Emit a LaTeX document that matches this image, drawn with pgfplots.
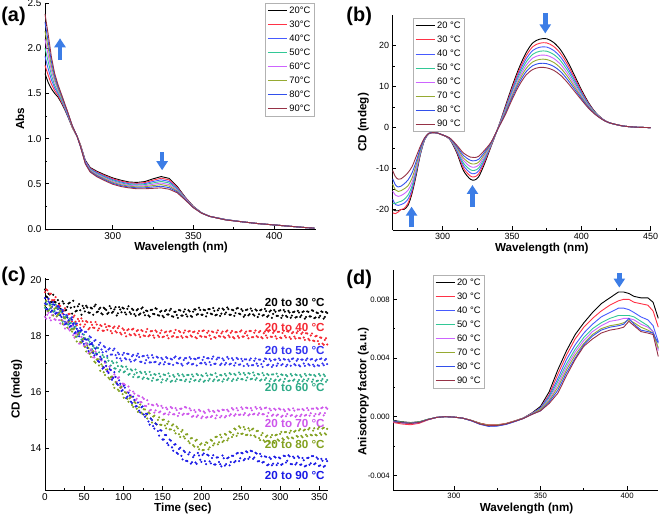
\documentclass[border=0pt]{standalone}
\usepackage{fontspec}
\setmainfont{Liberation Sans}
\usepackage{pgfplots}
\pgfplotsset{compat=1.18}
\usepackage{pgfplotstable}
\usetikzlibrary{arrows.meta}

\definecolor{cA}{RGB}{0,0,0}
\definecolor{cB}{RGB}{255,50,70}
\definecolor{cC}{RGB}{70,90,255}
\definecolor{cD}{RGB}{50,200,150}
\definecolor{cE}{RGB}{205,100,255}
\definecolor{cF}{RGB}{150,170,50}
\definecolor{cG}{RGB}{50,80,235}
\definecolor{cH}{RGB}{150,50,70}
\definecolor{arr}{RGB}{60,125,230}
\definecolor{pRed}{RGB}{245,40,50}
\definecolor{pBlue}{RGB}{50,50,240}
\definecolor{pTeal}{RGB}{45,170,135}
\definecolor{pViolet}{RGB}{205,85,235}
\definecolor{pOlive}{RGB}{130,160,30}
\definecolor{pBlue2}{RGB}{25,25,230}

\pgfplotstableread{
w a20 a30 a40 a50 a60 a70 a80 a90
258 1.72 1.81 1.91 2.00 2.10 2.19 2.29 2.38
260 1.62 1.70 1.77 1.85 1.92 2.00 2.07 2.15
262 1.55 1.60 1.65 1.70 1.75 1.80 1.85 1.90
264 1.50 1.53 1.56 1.59 1.63 1.66 1.69 1.72
266 1.46 1.48 1.50 1.52 1.54 1.56 1.58 1.60
268 1.40 1.41 1.43 1.44 1.46 1.47 1.49 1.50
270 1.33 1.34 1.35 1.36 1.37 1.38 1.39 1.40
272 1.25 1.26 1.26 1.27 1.28 1.29 1.29 1.30
275 1.12 1.12 1.13 1.13 1.13 1.13 1.14 1.14
278 1.02 1.02 1.02 1.02 1.02 1.02 1.02 1.02
280 0.93 0.93 0.92 0.92 0.92 0.92 0.91 0.91
283 0.76 0.75 0.75 0.74 0.74 0.73 0.73 0.72
286 0.680 0.673 0.666 0.659 0.651 0.644 0.637 0.630
290 0.640 0.631 0.623 0.614 0.606 0.597 0.589 0.580
295 0.600 0.591 0.581 0.572 0.563 0.554 0.544 0.535
300 0.565 0.555 0.545 0.535 0.525 0.515 0.505 0.495
305 0.540 0.530 0.520 0.510 0.500 0.490 0.480 0.470
310 0.520 0.511 0.501 0.492 0.483 0.474 0.464 0.455
315 0.515 0.505 0.495 0.485 0.475 0.465 0.455 0.445
320 0.525 0.514 0.502 0.491 0.479 0.468 0.456 0.445
325 0.555 0.540 0.525 0.510 0.495 0.480 0.465 0.450
330 0.580 0.562 0.544 0.526 0.509 0.491 0.473 0.455
335 0.560 0.543 0.526 0.509 0.491 0.474 0.457 0.440
340 0.470 0.460 0.450 0.440 0.430 0.420 0.410 0.400
345 0.350 0.346 0.341 0.337 0.333 0.329 0.324 0.320
350 0.250 0.248 0.246 0.244 0.241 0.239 0.237 0.235
355 0.180 0.179 0.179 0.178 0.177 0.177 0.176 0.175
360 0.140 0.140 0.140 0.140 0.140 0.140 0.140 0.140
370 0.105 0.104 0.104 0.103 0.102 0.101 0.101 0.100
380 0.080 0.080 0.080 0.080 0.080 0.080 0.080 0.080
390 0.060 0.060 0.060 0.060 0.060 0.060 0.060 0.060
400 0.045 0.045 0.045 0.045 0.045 0.045 0.045 0.045
410 0.030 0.030 0.030 0.030 0.030 0.030 0.030 0.030
420 0.015 0.015 0.015 0.015 0.015 0.015 0.015 0.015
425 0.010 0.010 0.010 0.010 0.010 0.010 0.010 0.010
}\tabA

\pgfplotstableread{
w b20 b30 b40 b50 b60 b70 b80 b90
264 -20.0 -20.8 -17.5 -18.5 -15.5 -13.8 -12.5 -10.5
266 -20.3 -21.0 -18.8 -18.5 -16.5 -15.2 -14.0 -12.0
268 -20.3 -20.6 -19.0 -18.2 -16.8 -15.6 -14.5 -12.6
270 -20.0 -20.0 -18.8 -18.0 -16.6 -15.4 -14.3 -12.5
272 -20.0 -19.8 -18.5 -17.6 -16.2 -15.0 -13.8 -12.0
275 -19.0 -18.5 -17.5 -16.5 -15.3 -14.2 -12.8 -11.0
278 -16.0 -15.5 -15.0 -14.2 -13.3 -12.3 -11.0 -9.5
281 -11.5 -11.0 -10.7 -10.3 -9.8 -9.0 -8.2 -7.0
284 -6.5 -6.3 -6.2 -6.0 -5.7 -5.4 -5.0 -4.5
287 -3.0 -2.9 -2.9 -2.8 -2.7 -2.6 -2.6 -2.5
290 -1.5 -1.5 -1.5 -1.5 -1.4 -1.4 -1.4 -1.4
293 -1.2 -1.2 -1.2 -1.2 -1.2 -1.2 -1.2 -1.2
296 -1.3 -1.3 -1.3 -1.3 -1.3 -1.3 -1.3 -1.3
300 -1.8 -1.8 -1.8 -1.8 -1.8 -1.8 -1.8 -1.8
305 -2.80 -2.76 -2.71 -2.67 -2.63 -2.59 -2.54 -2.50
310 -6.00 -5.74 -5.49 -5.23 -4.97 -4.71 -4.46 -4.20
315 -10.50 -9.89 -9.27 -8.66 -8.04 -7.43 -6.81 -6.20
320 -12.60 -11.83 -11.06 -10.29 -9.51 -8.74 -7.97 -7.20
323 -12.80 -12.01 -11.23 -10.44 -9.66 -8.87 -8.09 -7.30
326 -12.00 -11.29 -10.57 -9.86 -9.14 -8.43 -7.71 -7.00
330 -9.00 -8.51 -8.03 -7.54 -7.06 -6.57 -6.09 -5.60
335 -4.50 -4.36 -4.21 -4.07 -3.93 -3.79 -3.64 -3.50
340 0.00 -0.03 -0.06 -0.09 -0.11 -0.14 -0.17 -0.20
345 5.00 4.71 4.43 4.14 3.86 3.57 3.29 3.00
350 10.00 9.54 9.09 8.63 8.17 7.71 7.26 6.80
355 14.50 13.89 13.27 12.66 12.04 11.43 10.81 10.20
360 18.20 17.43 16.66 15.89 15.11 14.34 13.57 12.80
365 20.70 19.77 18.84 17.91 16.99 16.06 15.13 14.20
370 21.60 20.61 19.63 18.64 17.66 16.67 15.69 14.70
375 21.70 20.69 19.67 18.66 17.64 16.63 15.61 14.60
380 20.80 19.83 18.86 17.89 16.91 15.94 14.97 14.00
385 19.00 18.11 17.23 16.34 15.46 14.57 13.69 12.80
390 16.20 15.46 14.71 13.97 13.23 12.49 11.74 11.00
395 12.80 12.24 11.69 11.13 10.57 10.01 9.46 8.90
400 9.30 8.94 8.59 8.23 7.87 7.51 7.16 6.80
405 6.20 6.00 5.80 5.60 5.40 5.20 5.00 4.80
410 3.80 3.71 3.63 3.54 3.46 3.37 3.29 3.20
415 2.20 2.17 2.14 2.11 2.09 2.06 2.03 2.00
420 1.20 1.20 1.20 1.20 1.20 1.20 1.20 1.20
430 0.40 0.40 0.40 0.40 0.40 0.40 0.40 0.40
440 0.10 0.10 0.10 0.10 0.10 0.10 0.10 0.10
450 0.00 0.00 0.00 0.00 0.00 0.00 0.00 0.00
}\tabB

\pgfplotstableread{
w d20 d30 d40 d50 d60 d70 d80 d90
265 -0.00025 -0.00040 -0.00030 -0.00030 -0.00035 -0.00030 -0.00030 -0.00035
270 -0.00035 -0.00050 -0.00040 -0.00038 -0.00042 -0.00038 -0.00040 -0.00042
275 -0.00040 -0.00055 -0.00045 -0.00042 -0.00048 -0.00042 -0.00044 -0.00046
280 -0.00035 -0.00045 -0.00038 -0.00036 -0.00040 -0.00036 -0.00038 -0.00040
285 -0.00018 -0.00022 -0.00020 -0.00018 -0.00020 -0.00018 -0.00019 -0.00020
290 -0.00005 -0.00005 -0.00005 -0.00005 -0.00005 -0.00005 -0.00005 -0.00005
295 0.00000 0.00000 0.00000 0.00000 0.00000 0.00000 0.00000 0.00000
300 -0.00003 -0.00003 -0.00003 -0.00003 -0.00003 -0.00003 -0.00003 -0.00003
305 -0.00010 -0.00010 -0.00010 -0.00010 -0.00010 -0.00010 -0.00010 -0.00010
310 -0.00025 -0.00025 -0.00027 -0.00026 -0.00026 -0.00026 -0.00028 -0.00026
315 -0.00045 -0.00045 -0.00050 -0.00048 -0.00050 -0.00048 -0.00052 -0.00050
320 -0.00058 -0.00056 -0.00064 -0.00060 -0.00062 -0.00060 -0.00066 -0.00062
325 -0.00058 -0.00055 -0.00062 -0.00058 -0.00060 -0.00058 -0.00064 -0.00060
330 -0.00048 -0.00046 -0.00052 -0.00049 -0.00050 -0.00049 -0.00053 -0.00050
335 -0.00030 -0.00029 -0.00033 -0.00031 -0.00032 -0.00031 -0.00034 -0.00032
340 -0.00010 -0.00010 -0.00011 -0.00011 -0.00012 -0.00012 -0.00013 -0.00013
345 0.00025 0.00023 0.00022 0.00020 0.00019 0.00018 0.00016 0.00015
350 0.0007 0.0006 0.0006 0.0005 0.0005 0.0005 0.0004 0.0004
355 0.0017 0.0015 0.0014 0.0013 0.0012 0.0011 0.0010 0.0009
360 0.0032 0.0029 0.0026 0.0024 0.0022 0.0020 0.0018 0.0016
365 0.0045 0.0042 0.0039 0.0036 0.0034 0.0032 0.0030 0.0028
370 0.0056 0.0053 0.0049 0.0046 0.0044 0.0042 0.0040 0.0039
375 0.0064 0.0061 0.0057 0.0054 0.0052 0.0050 0.0049 0.0048
380 0.0071 0.0067 0.0063 0.0060 0.0058 0.0056 0.0055 0.0053
385 0.0077 0.0072 0.0068 0.0064 0.0062 0.0060 0.0059 0.0057
390 0.0081 0.0076 0.0071 0.0067 0.0065 0.0062 0.0061 0.0059
395 0.0085 0.0079 0.0074 0.0069 0.0066 0.0063 0.0062 0.0060
398 0.0085 0.0080 0.0074 0.0069 0.0067 0.0064 0.0063 0.0061
401 0.0084 0.0080 0.0073 0.0069 0.0067 0.0066 0.0067 0.0065
404 0.0082 0.0078 0.0071 0.0068 0.0066 0.0064 0.0063 0.0062
408 0.0081 0.0077 0.0068 0.0065 0.0063 0.0061 0.0059 0.0058
412 0.0081 0.0076 0.0066 0.0062 0.0061 0.0059 0.0058 0.0057
415 0.0078 0.0072 0.0062 0.0058 0.0058 0.0057 0.0057 0.0056
418 0.0067 0.0061 0.0051 0.0046 0.0045 0.0047 0.0050 0.0041
}\tabD

\pgfplotstableread{
t s30 s40 s50 s60 s70 s80 s90
0 19.65 19.55 19.15 19.00 18.68 19.08 19.35
3 19.37 19.62 18.95 19.13 18.75 18.89 18.94
6 19.47 19.50 19.14 18.96 18.64 19.08 19.18
9 19.20 19.27 19.03 19.11 18.73 18.88 18.90
12 19.20 19.28 18.87 18.91 18.59 18.96 19.10
15 19.04 19.03 19.00 18.98 18.69 18.70 18.82
18 19.15 19.10 18.83 18.74 18.56 18.80 19.02
21 18.93 18.89 18.94 18.84 18.57 18.55 18.67
24 19.15 18.90 18.66 18.64 18.39 18.66 18.76
27 18.92 18.68 18.74 18.68 18.48 18.44 18.44
30 19.15 18.78 18.52 18.40 18.25 18.50 18.55
33 19.00 18.61 18.62 18.46 18.33 18.22 18.35
36 19.25 18.66 18.39 18.26 18.02 18.23 18.44
39 18.87 18.50 18.42 18.33 18.08 17.97 18.13
42 19.05 18.60 18.19 18.09 18.04 18.04 18.15
45 18.91 18.40 18.28 18.13 17.73 17.78 18.18
48 19.07 18.52 18.06 17.89 17.84 17.85 17.80
51 18.87 18.40 18.14 17.91 17.63 17.60 17.88
54 19.01 18.49 17.87 17.72 17.68 17.64 17.57
57 18.82 18.28 17.98 17.79 17.41 17.36 17.69
60 18.97 18.39 17.75 17.52 17.46 17.40 17.70
63 19.05 18.28 17.82 17.57 17.23 17.08 17.30
66 18.84 18.40 17.58 17.37 17.32 17.15 17.34
69 18.95 18.26 17.68 17.41 17.07 16.94 17.07
72 18.80 18.35 17.51 17.19 17.12 16.98 17.16
75 19.00 18.18 17.63 17.24 16.85 16.70 16.88
78 18.92 18.31 17.44 17.05 16.91 16.79 16.93
81 18.82 18.35 17.51 17.11 16.71 16.50 16.67
84 18.98 18.17 17.33 16.94 16.78 16.52 16.78
87 18.86 18.28 17.48 17.03 16.51 16.26 16.50
90 19.02 18.16 17.31 16.83 16.54 16.35 16.53
93 18.80 18.27 17.40 16.92 16.49 16.08 16.25
96 18.94 18.11 17.19 16.78 16.22 16.15 16.29
99 19.00 18.26 17.32 16.89 16.29 15.92 16.06
102 18.83 18.10 17.20 16.73 16.25 15.99 16.15
105 18.96 18.20 17.36 16.81 15.99 15.75 15.83
108 18.84 18.05 17.15 16.64 16.05 15.77 15.87
111 18.96 18.22 17.27 16.76 15.82 15.53 15.60
114 18.77 18.07 17.11 16.62 15.94 15.63 15.71
117 18.91 18.17 17.29 16.68 15.75 15.40 15.49
120 18.75 18.04 17.24 16.54 15.85 15.45 15.33
123 18.97 18.20 17.07 16.67 15.63 15.26 15.45
126 18.83 18.01 17.28 16.51 15.75 15.38 15.19
129 18.90 18.14 17.13 16.63 15.49 15.16 15.22
132 18.72 17.98 17.22 16.46 15.57 15.26 14.94
135 18.92 18.16 17.05 16.60 15.36 15.05 15.05
138 18.78 18.01 17.22 16.49 15.52 15.12 14.78
141 18.98 18.19 17.07 16.61 15.34 14.88 14.87
144 18.74 18.01 17.22 16.44 15.50 15.00 14.60
147 18.86 18.10 17.03 16.55 15.30 14.83 14.63
150 18.71 17.95 17.16 16.44 15.43 15.00 14.30
153 18.88 18.12 17.06 16.60 15.23 14.80 14.46
156 18.76 18.01 17.20 16.46 15.38 14.86 14.17
159 18.90 18.15 17.00 16.56 15.27 14.66 14.30
162 18.70 17.97 17.15 16.40 15.42 14.80 14.02
165 18.85 18.10 17.22 16.54 15.20 14.62 14.12
168 18.74 17.95 17.04 16.45 15.35 14.76 13.83
171 18.92 18.17 17.18 16.58 15.24 14.49 13.96
174 18.72 17.99 17.00 16.42 15.40 14.58 13.72
177 18.86 18.11 17.14 16.56 15.22 14.41 13.90
180 18.76 17.97 17.20 16.44 15.44 14.48 13.54
183 18.91 18.15 17.04 16.60 15.22 14.24 13.77
186 18.71 18.01 17.18 16.46 15.34 14.34 13.44
189 18.86 18.13 17.00 16.55 15.14 14.10 13.67
192 18.94 17.95 17.16 16.42 15.28 14.26 13.48
195 18.77 18.09 17.20 16.60 15.16 14.04 13.82
198 18.92 17.99 17.02 16.44 15.32 14.12 13.58
201 18.75 18.17 17.14 16.56 15.12 13.92 13.75
204 18.91 17.97 17.04 16.40 15.25 14.11 13.53
207 18.81 18.11 17.20 16.58 15.10 14.18 13.76
210 18.95 18.01 17.06 16.46 15.30 14.02 13.52
213 18.77 18.15 17.18 16.60 15.14 14.26 13.64
216 18.89 17.95 17.00 16.44 15.28 14.16 13.41
219 18.75 18.11 17.16 16.54 15.16 14.40 13.66
222 18.97 17.99 17.22 16.42 15.31 14.20 13.50
225 18.79 18.09 17.01 16.59 15.14 14.38 13.34
228 18.93 17.97 17.13 16.45 15.35 14.26 13.63
231 18.83 18.15 17.03 16.58 15.14 14.47 13.42
234 18.95 18.01 17.18 16.48 15.31 14.34 13.66
237 18.75 18.11 17.00 16.63 15.20 14.55 13.50
240 18.91 17.95 17.14 16.45 15.37 14.47 13.72
243 18.81 18.13 17.03 16.60 15.20 14.66 13.53
246 18.99 17.99 17.17 16.48 15.34 14.52 13.82
249 18.77 18.15 16.98 16.63 15.19 14.72 13.63
252 18.89 17.97 17.10 16.45 15.39 14.51 13.81
255 18.74 18.09 17.16 16.61 15.24 14.66 13.61
258 18.94 18.01 16.99 16.51 15.42 14.47 13.85
261 18.77 18.17 17.13 16.65 15.20 14.62 13.67
264 18.89 17.95 16.95 16.47 15.34 14.66 13.88
267 18.72 18.11 17.11 16.59 15.22 14.44 13.66
270 18.90 17.99 17.01 16.49 15.40 14.60 13.80
273 18.77 18.13 17.15 16.62 15.24 14.35 13.53
276 18.93 17.95 16.99 16.44 15.38 14.46 13.70
279 18.74 18.09 17.09 16.59 15.20 14.27 13.50
282 18.88 18.01 17.17 16.49 15.44 14.40 13.68
285 18.72 18.15 16.97 16.60 15.25 14.24 13.41
288 18.90 17.97 17.11 16.46 15.34 14.38 13.61
291 18.78 18.10 16.95 16.62 15.19 14.21 13.44
294 18.86 17.98 17.15 16.43 15.36 14.45 13.66
297 18.71 18.14 17.01 16.55 15.19 14.30 13.45
300 18.91 17.94 17.13 16.44 15.37 14.50 13.63
303 18.72 18.10 16.99 16.60 15.15 14.34 13.43
306 18.86 18.00 17.15 16.46 15.31 14.56 13.71
309 18.67 18.16 16.97 16.56 15.21 14.39 13.54
312 18.83 17.95 17.09 16.40 15.35 14.54 13.70
315 18.72 18.09 17.17 16.58 15.17 14.37 13.42
318 18.86 17.97 16.99 16.44 15.33 14.58 13.64
321 18.67 18.10 17.11 16.60 15.15 14.43 13.47
324 18.83 17.92 16.95 16.42 15.37 14.62 13.65
327 18.73 18.07 17.15 16.54 15.19 14.43 13.41
330 18.87 17.94 17.01 16.44 15.35 14.62 13.56
333 18.67 18.09 17.13 16.58 15.18 14.47 13.37
336 18.85 17.89 16.99 16.46 15.35 14.66 13.65
339 18.69 18.01 17.15 16.60 15.24 14.47 13.45
342 18.89 17.83 16.97 16.44 15.40 14.62 13.71
345 18.65 17.98 17.11 16.56 15.21 14.47 13.45
348 18.81 17.81 16.95 16.40 15.39 14.68 13.61
351 18.71 17.94 17.17 16.58 15.24 14.53 13.38
354 18.85 17.72 17.01 16.46 15.44 14.69 13.54
357 18.67 17.85 17.13 16.56 15.24 14.52 13.36
360 18.81 17.69 16.99 16.42 15.40 14.68 13.53
}\tabC

\pgfplotstableread{
t s30 s40 s50 s60 s70 s80 s90
1.5 19.40 19.65 18.95 19.22 18.61 19.25 19.12
4.5 19.50 19.30 19.22 18.89 18.82 18.90 19.32
7.5 19.20 19.50 18.99 19.12 18.55 19.01 18.85
10.5 19.46 19.26 19.20 18.86 18.74 18.72 19.12
13.5 19.20 19.38 18.79 19.12 18.57 18.99 18.79
16.5 19.27 18.96 18.95 18.78 18.78 18.75 19.06
19.5 18.96 19.06 18.75 18.90 18.44 18.88 18.72
22.5 19.23 18.80 18.92 18.50 18.55 18.42 18.86
25.5 18.90 18.98 18.50 18.66 18.26 18.62 18.41
28.5 19.03 18.66 18.72 18.41 18.48 18.29 18.65
31.5 19.18 18.78 18.44 18.61 18.19 18.53 18.32
34.5 18.79 18.51 18.66 18.26 18.36 18.15 18.57
37.5 19.03 18.72 18.32 18.46 17.93 18.26 18.09
40.5 18.89 18.38 18.44 17.97 18.08 17.80 18.25
43.5 19.13 18.52 18.06 18.14 17.72 18.11 17.98
46.5 18.75 18.62 18.21 17.86 17.96 17.76 18.19
49.5 18.98 18.32 17.92 18.04 17.64 17.90 17.71
52.5 19.07 18.52 18.14 17.72 17.74 17.44 17.86
55.5 18.83 18.23 17.86 17.89 17.38 17.56 17.46
58.5 19.00 18.49 17.94 17.48 17.51 17.25 17.71
61.5 18.75 18.29 17.65 17.63 17.23 17.45 17.39
64.5 19.11 18.49 17.85 17.37 17.44 17.04 17.54
67.5 18.86 18.19 17.57 17.56 17.11 17.17 17.10
70.5 19.00 18.38 17.75 17.15 17.18 16.75 17.25
73.5 18.76 18.18 17.41 17.31 16.84 16.91 16.83
76.5 18.96 18.41 17.59 17.08 17.04 16.60 17.08
79.5 18.78 18.21 17.28 17.21 16.72 16.80 16.74
82.5 19.06 18.34 17.55 16.90 16.90 16.45 16.81
85.5 18.82 18.09 17.33 17.09 16.48 16.55 16.43
88.5 18.94 18.33 17.54 16.84 16.62 16.14 16.70
91.5 18.72 18.12 17.21 17.05 16.35 16.30 16.30
94.5 19.02 18.34 17.34 16.72 16.52 16.03 16.41
97.5 18.84 18.05 17.11 16.92 16.15 16.18 16.03
100.5 18.97 18.21 17.39 16.70 16.29 15.79 16.22
103.5 18.76 17.98 17.16 16.90 15.97 15.96 15.78
106.5 19.05 18.23 17.35 16.61 16.19 15.65 15.97
109.5 18.78 18.02 17.08 16.80 15.88 15.82 15.65
112.5 18.92 18.25 17.32 16.53 16.01 15.46 15.83
115.5 18.71 18.02 17.15 16.80 15.69 15.60 15.48
118.5 18.95 18.20 17.36 16.52 15.87 15.29 15.62
121.5 18.79 17.96 17.07 16.72 15.64 15.55 15.26
124.5 19.01 18.17 17.27 16.46 15.80 15.21 15.48
127.5 18.73 17.99 17.02 16.71 15.50 15.37 15.11
130.5 18.88 18.24 17.30 16.48 15.70 15.05 15.21
133.5 18.68 18.02 17.05 16.71 15.33 15.23 14.83
136.5 18.93 18.17 17.31 16.40 15.54 14.91 15.00
139.5 18.77 17.93 17.06 16.63 15.26 15.15 14.69
142.5 18.96 18.14 17.25 16.42 15.56 14.84 14.84
145.5 18.72 17.96 16.98 16.65 15.27 15.09 14.44
148.5 18.89 18.19 17.21 16.34 15.50 14.82 14.62
151.5 18.66 17.97 16.98 16.62 15.20 15.01 14.30
154.5 18.92 18.15 17.24 16.40 15.44 14.70 14.46
157.5 18.76 17.91 17.00 16.66 15.19 14.94 14.10
160.5 18.96 18.17 17.18 16.36 15.46 14.66 14.26
163.5 18.68 17.99 16.96 16.60 15.20 14.84 13.90
166.5 18.86 18.21 17.26 16.38 15.42 14.52 14.13
169.5 18.64 17.95 17.02 16.64 15.14 14.70 13.79
172.5 18.90 18.13 17.22 16.42 15.40 14.39 14.01
175.5 18.72 17.93 16.94 16.62 15.18 14.64 13.59
178.5 18.94 18.19 17.20 16.38 15.46 14.34 13.85
181.5 18.69 17.95 17.00 16.60 15.21 14.49 13.53
184.5 18.87 18.17 17.24 16.36 15.41 14.17 13.84
187.5 18.68 17.97 16.98 16.62 15.11 14.35 13.49
190.5 18.94 18.15 17.18 16.40 15.35 14.05 13.74
193.5 18.75 17.91 16.94 16.64 15.11 14.29 13.43
196.5 19.00 18.17 17.22 16.38 15.36 13.95 13.73
199.5 18.75 17.97 17.02 16.60 15.06 14.16 13.50
202.5 18.93 18.19 17.24 16.36 15.30 13.93 13.80
205.5 18.69 17.95 16.98 16.66 15.08 14.20 13.42
208.5 18.95 18.17 17.20 16.40 15.36 13.95 13.73
211.5 18.79 17.89 16.96 16.62 15.10 14.29 13.45
214.5 18.99 18.13 17.26 16.38 15.32 14.09 13.74
217.5 18.73 17.93 17.00 16.66 15.06 14.39 13.41
220.5 18.91 18.19 17.22 16.40 15.34 14.13 13.66
223.5 18.71 17.97 16.96 16.60 15.09 14.47 13.42
226.5 18.97 18.15 17.19 16.37 15.36 14.21 13.73
229.5 18.77 17.93 16.97 16.64 15.09 14.50 13.37
232.5 19.01 18.19 17.24 16.42 15.36 14.27 13.63
235.5 18.75 17.95 16.98 16.67 15.15 14.58 13.38
238.5 18.93 18.17 17.20 16.39 15.42 14.39 13.72
241.5 18.71 17.91 16.94 16.64 15.15 14.69 13.49
244.5 18.97 18.13 17.21 16.42 15.42 14.43 13.80
247.5 18.79 17.93 16.97 16.69 15.18 14.77 13.53
250.5 18.95 18.19 17.18 16.45 15.45 14.50 13.82
253.5 18.68 17.97 16.92 16.67 15.18 14.75 13.56
256.5 18.92 18.15 17.16 16.41 15.44 14.46 13.88
259.5 18.73 17.91 16.93 16.67 15.16 14.70 13.61
262.5 18.97 18.17 17.19 16.45 15.42 14.45 13.90
265.5 18.76 17.95 16.95 16.69 15.20 14.69 13.61
268.5 18.94 18.19 17.19 16.43 15.46 14.39 13.83
271.5 18.67 17.95 16.93 16.64 15.18 14.61 13.52
274.5 18.91 18.17 17.15 16.40 15.44 14.28 13.79
277.5 18.72 17.91 16.89 16.67 15.20 14.53 13.48
280.5 18.96 18.15 17.19 16.43 15.42 14.22 13.70
283.5 18.68 17.93 16.95 16.64 15.13 14.44 13.38
286.5 18.86 18.19 17.17 16.38 15.40 14.18 13.66
289.5 18.64 17.96 16.89 16.62 15.15 14.46 13.38
292.5 18.92 18.16 17.15 16.39 15.40 14.18 13.69
295.5 18.71 17.90 16.93 16.65 15.15 14.47 13.39
298.5 18.89 18.14 17.19 16.40 15.41 14.26 13.66
301.5 18.64 17.92 16.95 16.62 15.11 14.57 13.40
304.5 18.92 18.18 17.17 16.36 15.37 14.29 13.72
307.5 18.71 17.94 16.91 16.60 15.13 14.57 13.48
310.5 18.89 18.15 17.15 16.38 15.39 14.34 13.74
313.5 18.64 17.89 16.93 16.64 15.15 14.61 13.43
316.5 18.84 18.13 17.19 16.40 15.41 14.34 13.69
319.5 18.65 17.90 16.95 16.62 15.11 14.61 13.41
322.5 18.89 18.16 17.17 16.36 15.37 14.40 13.70
325.5 18.67 17.91 16.91 16.60 15.13 14.67 13.40
328.5 18.85 18.12 17.15 16.38 15.39 14.38 13.64
331.5 18.61 17.85 16.93 16.64 15.15 14.65 13.34
334.5 18.87 18.08 17.19 16.40 15.42 14.42 13.64
337.5 18.69 17.84 16.95 16.62 15.15 14.71 13.40
340.5 18.91 18.08 17.17 16.36 15.40 14.45 13.71
343.5 18.63 17.81 16.91 16.60 15.14 14.70 13.42
346.5 18.83 18.00 17.15 16.38 15.43 14.45 13.66
349.5 18.65 17.71 16.93 16.64 15.19 14.74 13.36
352.5 18.87 17.93 17.19 16.40 15.42 14.47 13.61
355.5 18.61 17.68 16.95 16.62 15.16 14.72 13.33
358.5 18.85 17.91 17.17 16.36 15.44 14.48 13.60
}\tabCb

\pgfplotsset{
  panel/.style={
    scale only axis,
    axis x line*=bottom, axis y line*=left,
    tick align=inside, minor tick num=1,
    major tick length=3.5bp, minor tick length=2bp,
    axis line style={line width=0.9bp},
    every tick/.style={line width=0.8bp, black},
    /pgf/number format/assume math mode=true,
    clip=false,
    label style={font=\fontsize{11.7}{12}\selectfont\bfseries},
    legend cell align=left,
    legend image code/.code={\draw[#1, line width=1bp] (0bp,0bp) -- (19bp,0bp);},
    legend style={font=\fontsize{9.4}{11}\selectfont, draw=gray!60, line width=0.5bp,
      inner xsep=2bp, inner ysep=1.5bp, row sep=2bp, fill=white},
  },
  lw/.style={line width=0.9bp},
  dots/.style={only marks, mark=*, mark size=0.85bp},
}

\begin{document}
\begin{tikzpicture}
\path[use as bounding box] (0bp,0bp) rectangle (660bp,518bp);

% ---------- (a)
\begin{axis}[panel, anchor=south west, at={(45bp,289bp)}, width=271bp, height=226bp,
  xmin=258, xmax=426, ymin=0, ymax=2.5,
  xtick={300,350,400}, ytick={0,0.5,1,1.5,2,2.5},
  ticklabel style={font=\fontsize{10}{10}\selectfont},
  yticklabel style={/pgf/number format/.cd, fixed, fixed zerofill, precision=1},
  xlabel={Wavelength (nm)}, ylabel={Abs},
  xlabel style={at={(axis description cs:0.502,-0.084)}, anchor=center},
  ylabel style={at={(axis description cs:-0.092,0.487)}, anchor=center},
  legend style={at={(0.995,1.0)}, anchor=north east}]
\addplot[lw, cA] table[x=w,y=a20]{\tabA}; \addlegendentry{20°C}
\addplot[lw, cB] table[x=w,y=a30]{\tabA}; \addlegendentry{30°C}
\addplot[lw, cC] table[x=w,y=a40]{\tabA}; \addlegendentry{40°C}
\addplot[lw, cD] table[x=w,y=a50]{\tabA}; \addlegendentry{50°C}
\addplot[lw, cE] table[x=w,y=a60]{\tabA}; \addlegendentry{60°C}
\addplot[lw, cF] table[x=w,y=a70]{\tabA}; \addlegendentry{70°C}
\addplot[lw, cG] table[x=w,y=a80]{\tabA}; \addlegendentry{80°C}
\addplot[lw, cH] table[x=w,y=a90]{\tabA}; \addlegendentry{90°C}
\draw[arr, line width=4.5bp, -{Triangle[width=11bp,length=9bp]}] (axis cs:267.3,1.87) -- (axis cs:267.3,2.11);
\draw[arr, line width=4.5bp, -{Triangle[width=11bp,length=9bp]}] (axis cs:330.6,0.85) -- (axis cs:330.6,0.65);
\end{axis}

% ---------- (b)
\begin{axis}[panel, anchor=south west, at={(392.7bp,288bp)}, width=258bp, height=215bp,
  xmin=264, xmax=450, ymin=-25, ymax=27.5,
  xtick={300,350,400,450}, ytick={-20,-10,0,10,20},
  ticklabel style={font=\fontsize{9}{9}\selectfont},
  xlabel={Wavelength (nm)}, ylabel={CD (mdeg)},
  xlabel style={at={(axis description cs:0.578,-0.084)}, anchor=center},
  ylabel style={at={(axis description cs:-0.114,0.5)}, anchor=center},
  legend style={at={(0.078,0.985)}, anchor=north west}]
\addplot[lw, smooth, cA] table[x=w,y=b20]{\tabB}; \addlegendentry{20 °C}
\addplot[lw, smooth, cB] table[x=w,y=b30]{\tabB}; \addlegendentry{30 °C}
\addplot[lw, smooth, cC] table[x=w,y=b40]{\tabB}; \addlegendentry{40 °C}
\addplot[lw, smooth, cD] table[x=w,y=b50]{\tabB}; \addlegendentry{50 °C}
\addplot[lw, smooth, cE] table[x=w,y=b60]{\tabB}; \addlegendentry{60 °C}
\addplot[lw, smooth, cF] table[x=w,y=b70]{\tabB}; \addlegendentry{70 °C}
\addplot[lw, smooth, cG] table[x=w,y=b80]{\tabB}; \addlegendentry{80 °C}
\addplot[lw, smooth, cH] table[x=w,y=b90]{\tabB}; \addlegendentry{90 °C}
\draw[arr, line width=4.5bp, -{Triangle[width=11bp,length=9bp]}] (axis cs:374,27.9) -- (axis cs:374,23.0);
\draw[arr, line width=4.5bp, -{Triangle[width=11bp,length=9bp]}] (axis cs:277.6,-24.3) -- (axis cs:277.6,-19.3);
\draw[arr, line width=4.5bp, -{Triangle[width=11bp,length=9bp]}] (axis cs:321.5,-19.3) -- (axis cs:321.5,-14.0);
\end{axis}

% ---------- (c)
\begin{axis}[panel, anchor=south west, at={(45bp,28bp)}, width=283bp, height=211.7bp,
  xmin=0, xmax=361, ymin=12.5, ymax=20.05,
  xtick={0,50,...,350}, ytick={14,16,18,20},
  ticklabel style={font=\fontsize{10}{10}\selectfont},
  xlabel={Time (sec)}, ylabel={CD (mdeg)},
  xlabel style={at={(axis description cs:0.487,-0.085)}, anchor=center},
  ylabel style={at={(axis description cs:-0.1,0.477)}, anchor=center}]
\addplot[dots, black] table[x=t,y=s30]{\tabC};
\addplot[dots, black] table[x=t,y=s30]{\tabCb};
\addplot[dots, pRed] table[x=t,y=s40]{\tabC};
\addplot[dots, pRed] table[x=t,y=s40]{\tabCb};
\addplot[dots, pBlue] table[x=t,y=s50]{\tabC};
\addplot[dots, pBlue] table[x=t,y=s50]{\tabCb};
\addplot[dots, pTeal] table[x=t,y=s60]{\tabC};
\addplot[dots, pTeal] table[x=t,y=s60]{\tabCb};
\addplot[dots, pViolet] table[x=t,y=s70]{\tabC};
\addplot[dots, pViolet] table[x=t,y=s70]{\tabCb};
\addplot[dots, pOlive] table[x=t,y=s80]{\tabC};
\addplot[dots, pOlive] table[x=t,y=s80]{\tabCb};
\addplot[dots, pBlue2] table[x=t,y=s90]{\tabC};
\addplot[dots, pBlue2] table[x=t,y=s90]{\tabCb};
\begin{scope}[every node/.style={anchor=east, font=\fontsize{11.7}{12}\selectfont\bfseries, inner sep=0pt}]
\node[text=black] at (axis cs:357,19.2) {20 to 30 °C};
\node[text=pRed] at (axis cs:357,18.31) {20 to 40 °C};
\node[text=pBlue] at (axis cs:357,17.48) {20 to 50 °C};
\node[text=pTeal] at (axis cs:357,16.17) {20 to 60 °C};
\node[text=pViolet] at (axis cs:357,14.87) {20 to 70 °C};
\node[text=pOlive] at (axis cs:357,14.12) {20 to 80 °C};
\node[text=pBlue2] at (axis cs:357,13.0) {20 to 90 °C};
\end{scope}
\end{axis}

% ---------- (d)
\begin{axis}[panel, anchor=south west, at={(393.3bp,28bp)}, width=265bp, height=220bp,
  xmin=265, xmax=418, ymin=-0.005, ymax=0.010,
  xtick={300,350,400}, ytick={-0.004,0,0.004,0.008},
  scaled y ticks=false,
  ticklabel style={font=\fontsize{7.8}{8}\selectfont},
  yticklabel style={/pgf/number format/.cd, fixed, fixed zerofill, precision=3},
  xlabel={Wavelength (nm)}, ylabel={Anisotropy factor (a.u.)},
  xlabel style={at={(axis description cs:0.503,-0.082)}, anchor=center},
  ylabel style={at={(axis description cs:-0.113,0.447)}, anchor=center},
  legend style={at={(0.149,0.977)}, anchor=north west}]
\addplot[lw, cA] table[x=w,y=d20]{\tabD}; \addlegendentry{20 °C}
\addplot[lw, cB] table[x=w,y=d30]{\tabD}; \addlegendentry{30 °C}
\addplot[lw, cC] table[x=w,y=d40]{\tabD}; \addlegendentry{40 °C}
\addplot[lw, cD] table[x=w,y=d50]{\tabD}; \addlegendentry{50 °C}
\addplot[lw, cE] table[x=w,y=d60]{\tabD}; \addlegendentry{60 °C}
\addplot[lw, cF] table[x=w,y=d70]{\tabD}; \addlegendentry{70 °C}
\addplot[lw, cG] table[x=w,y=d80]{\tabD}; \addlegendentry{80 °C}
\addplot[lw, cH] table[x=w,y=d90]{\tabD}; \addlegendentry{90 °C}
\draw[arr, line width=4.5bp, -{Triangle[width=11bp,length=9bp]}] (axis cs:395.5,0.0098) -- (axis cs:395.5,0.0088);
\end{axis}

\node[font=\fontsize{20}{20}\selectfont\bfseries] at (13.5bp,501.3bp) {(a)};
\node[font=\fontsize{20}{20}\selectfont\bfseries] at (359.2bp,501.3bp) {(b)};
\node[font=\fontsize{20}{20}\selectfont\bfseries] at (13.5bp,241.7bp) {(c)};
\node[font=\fontsize{20}{20}\selectfont\bfseries] at (359.2bp,239bp) {(d)};
\end{tikzpicture}
\end{document}
